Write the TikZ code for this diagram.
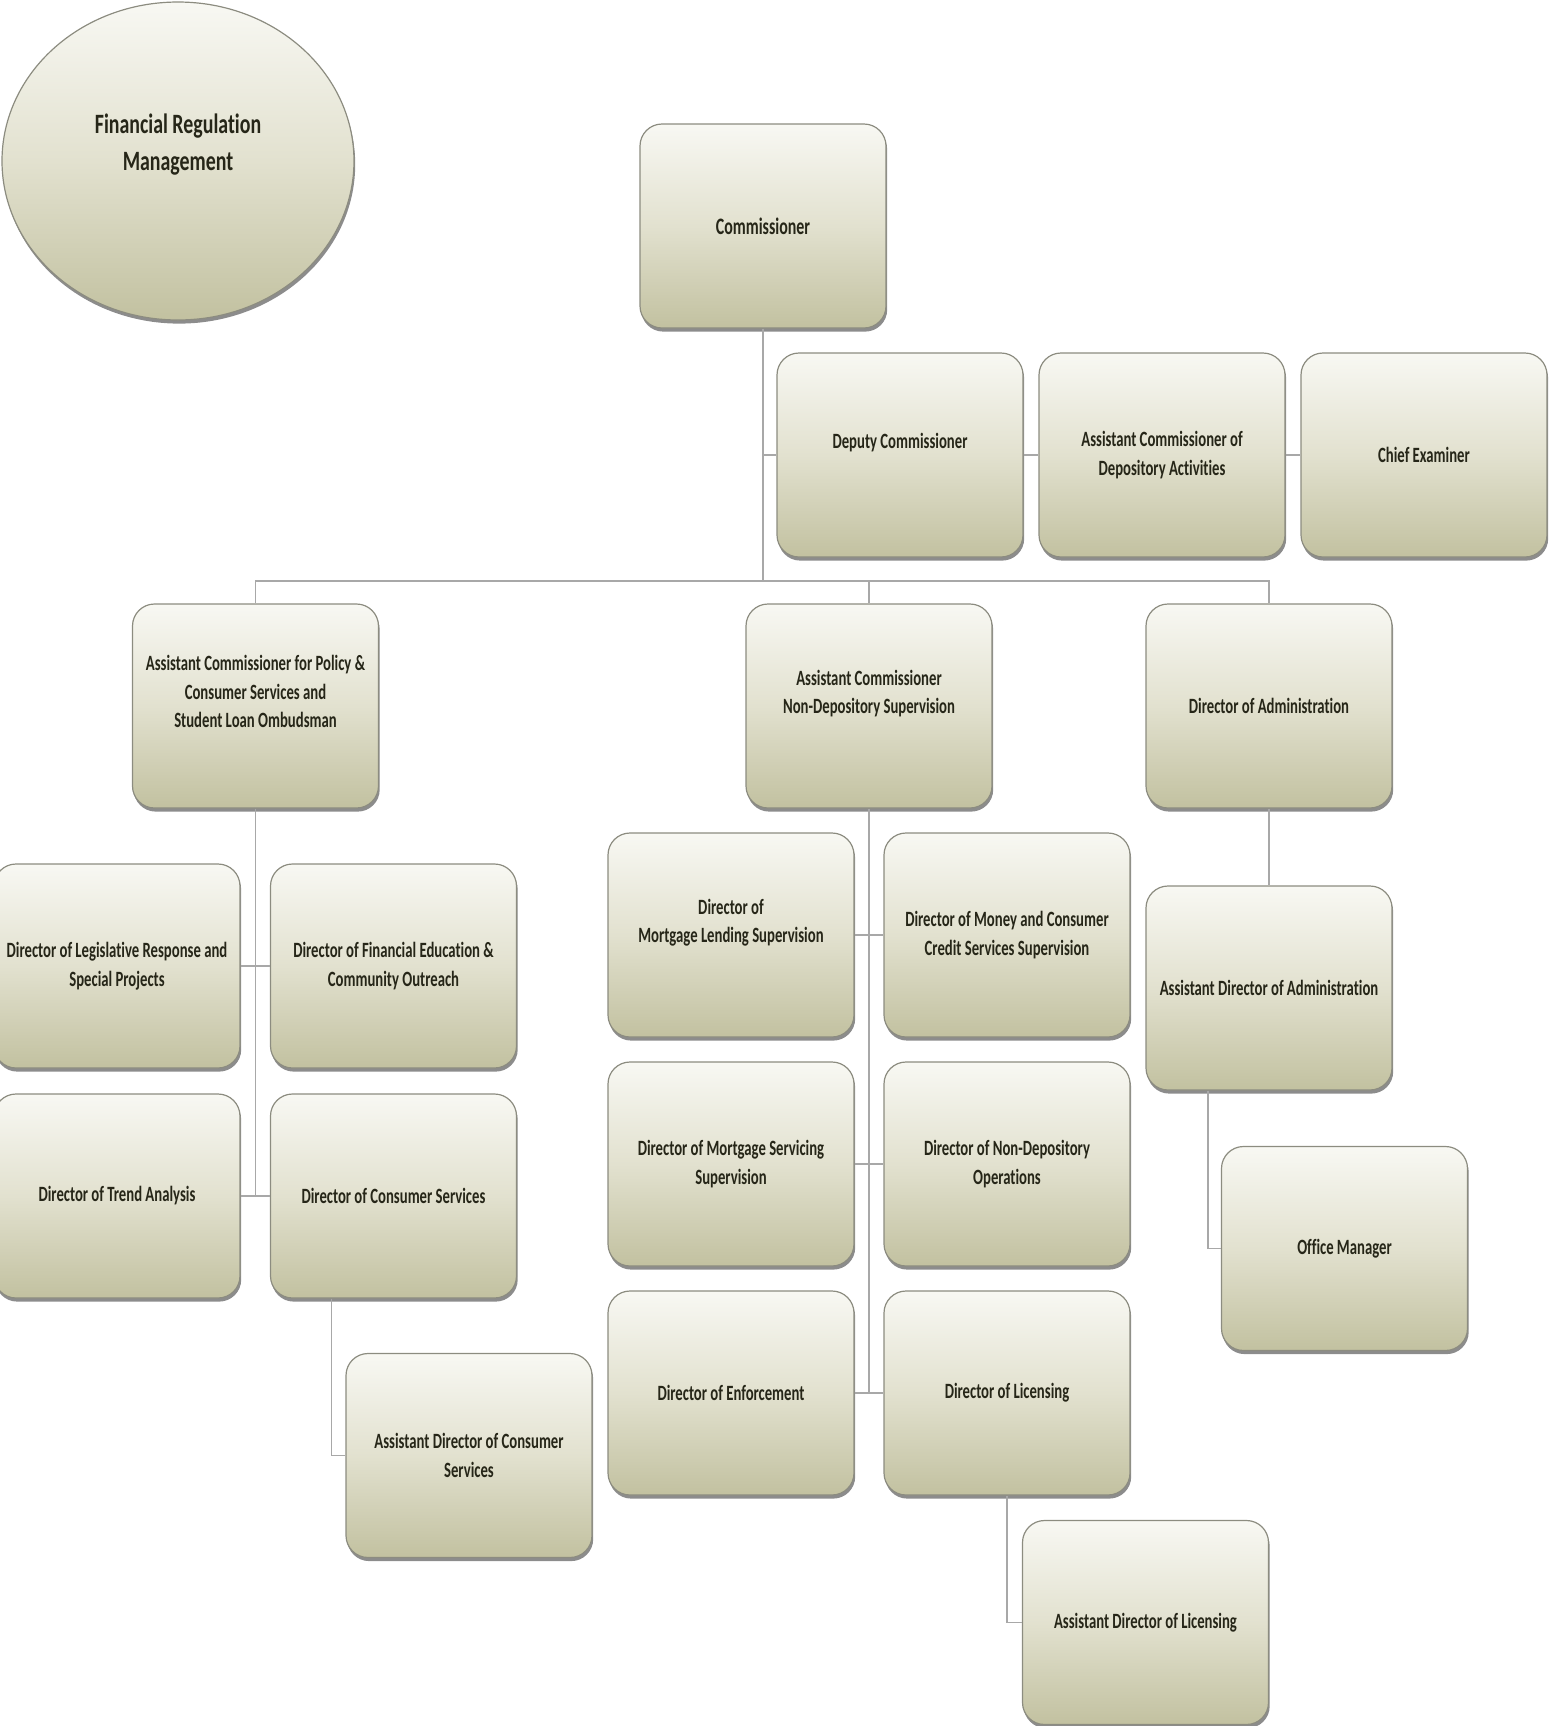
\documentclass[tikz,border=0pt]{standalone}
\usepackage{fontspec}
\setmainfont{Carlito}[FakeStretch=0.675, Ligatures={NoCommon}]
\newfontfamily\ellfont{Carlito}[FakeStretch=0.71, Ligatures={NoCommon}]
\usetikzlibrary{shadows,calc,shapes.geometric}
\definecolor{boxtop}{HTML}{F8F8F3}
\definecolor{boxmid}{HTML}{E2E1CF}
\definecolor{boxbot}{HTML}{C2C1A0}
\definecolor{boxline}{HTML}{8C8C80}
\definecolor{linec}{HTML}{A8A8A8}
\definecolor{txt}{HTML}{262618}
\tikzset{
  shade3/.style={top color=boxtop, bottom color=boxbot, middle color=boxmid},
  orgbox/.style={draw=boxline, line width=0.6pt, rounded corners=11pt,
    minimum width=123pt, minimum height=102pt, shade3,
    drop shadow={shadow xshift=0.6pt, shadow yshift=-1.8pt, fill=black!75, opacity=0.6},
    align=center, font=\bfseries\fontsize{10.9}{14.3}\selectfont, text=txt, inner sep=2pt},
  link/.style={draw=linec, line width=0.6pt},
}
\begin{document}
\begin{tikzpicture}[x=0.5pt, y=-0.5pt]
\useasboundingbox (0,0) rectangle (1551,1726);
% ellipse
\node[ellipse, draw=boxline, line width=0.6pt, shade3, minimum width=176pt, minimum height=159pt,
  drop shadow={shadow xshift=0.6pt, shadow yshift=-1.8pt, fill=black!75, opacity=0.6},
  align=center, font=\ellfont\bfseries\fontsize{14}{18.7}\selectfont, text=txt] (frm) at (178,161)
  {Financial Regulation\\ Management\\ \mbox{}};
% top
\node[orgbox, font=\bfseries\fontsize{11.8}{14.3}\selectfont] (com) at (763,226) {Commissioner};
\node[orgbox] (dep) at (900,455) {Deputy Commissioner\\ \mbox{}};
\node[orgbox] (adc) at (1162,455) {Assistant Commissioner of\\ Depository Activities};
\node[orgbox] (chief) at (1424,455) {Chief Examiner};
% row 3
\node[orgbox] (pol) at (255.5,706) {Assistant Commissioner for Policy \&\\ Consumer Services and\\ Student Loan Ombudsman\\ \mbox{}};
\node[orgbox] (ndep) at (869,706) {Assistant Commissioner\\ Non-Depository Supervision\\ \mbox{}};
\node[orgbox] (dadm) at (1269,706) {Director of Administration};
% left subtree
\node[orgbox] (leg) at (117,966) {Director of Legislative Response and\\ Special Projects};
\node[orgbox] (fin) at (393.5,966) {Director of Financial Education \&\\ Community Outreach};
\node[orgbox] (trend) at (117,1196) {Director of Trend Analysis};
\node[orgbox] (cons) at (393.5,1196) {Director of Consumer Services};
\node[orgbox] (adcs) at (469,1455.5) {Assistant Director of Consumer\\ Services};
% middle subtree
\node[orgbox] (mlend) at (731,935) {Director of\\ Mortgage Lending Supervision\\ \mbox{}};
\node[orgbox] (money) at (1007,935) {Director of Money and Consumer\\ Credit Services Supervision};
\node[orgbox] (mserv) at (731,1164) {Director of Mortgage Servicing\\ Supervision};
\node[orgbox] (ndops) at (1007,1164) {Director of Non-Depository\\ Operations};
\node[orgbox] (enf) at (731,1393) {Director of Enforcement};
\node[orgbox] (lic) at (1007,1393) {Director of Licensing};
\node[orgbox] (adlic) at (1145.5,1622.5) {Assistant Director of Licensing};
% right subtree
\node[orgbox] (adadm) at (1269,988) {Assistant Director of Administration};
\node[orgbox] (office) at (1344.5,1248.5) {Office Manager};
% connectors
\coordinate (bus) at (763,581);
\draw[link] (com.south) -- (bus);
\draw[link] (com.south |- dep.west) -- (dep.west);
\draw[link] (dep) -- (adc);
\draw[link] (adc) -- (chief);
\draw[link] (pol.north) |- (bus) -| (dadm.north);
\draw[link] (bus -| ndep.north) -- (ndep.north);
\draw[link] (pol.south) -- (pol.south |- trend.east);
\draw[link] (leg) -- (fin);
\draw[link] (trend) -- (cons);
\draw[link] ($(cons.south)+(-62,0)$) |- (adcs.west);
\draw[link] (ndep.south) -- (ndep.south |- enf.east);
\draw[link] (mlend) -- (money);
\draw[link] (mserv) -- (ndops);
\draw[link] (enf) -- (lic);
\draw[link] (lic.south) |- (adlic.west);
\draw[link] (dadm) -- (adadm);
\draw[link] ($(adadm.south)+(-61,0)$) |- (office.west);
\end{tikzpicture}
\end{document}
